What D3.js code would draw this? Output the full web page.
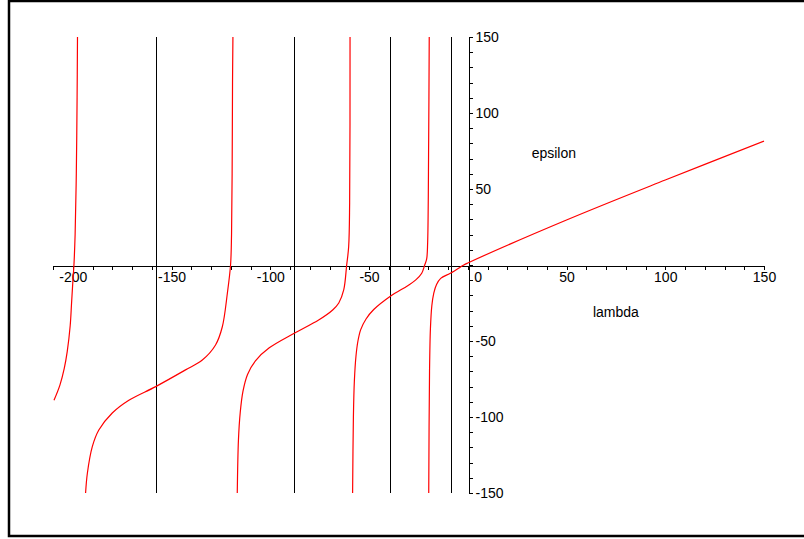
<!DOCTYPE html>
<html>
<head>
<meta charset="utf-8">
<script src="https://cdn.jsdelivr.net/npm/d3@7"></script>
<style>
  body { margin: 0; background: #fff; }
  svg { display: block; }
</style>
</head>
<body>
<svg id="chart"></svg>
<script>
// red branches, [lambda, epsilon]
const branch1 = [[-209.5, -89], [-206.5, -79], [-204.3, -68], [-202.8, -57], [-201.3, -40], [-200.6, -25],
  [-200.0, -12], [-199.4, 0], [-198.8, 20], [-198.2, 60], [-197.8, 110], [-197.6, 150]];
const branch2 = [[-193.5, -150], [-192.6, -137], [-190.1, -119.5], [-186.8, -108.6], [-180, -97.4],
  [-171.6, -89], [-158, -80], [-142.9, -69], [-134.4, -62.5], [-127.7, -52.6], [-124.3, -40.8],
  [-121.7, -18.4], [-120.1, 0], [-119.6, 20], [-119.3, 60], [-119.1, 120], [-118.9, 150]];
const branch3 = [[-116.7, -150], [-116.1, -115], [-115.2, -97], [-113.8, -83], [-111.5, -72], [-107.5, -63],
  [-100.5, -54.5], [-87.6, -44.7], [-75.5, -36.2], [-68.4, -29.6], [-65.3, -25],
  [-62.8, -16.4], [-61.3, 0], [-60.3, 12], [-59.8, 41], [-59.6, 150]];
const branch4 = [[-58.3, -150], [-57.9, -100], [-57.4, -76], [-56.6, -60], [-55.6, -50], [-54.2, -42.5],
  [-51.5, -35.5], [-47.6, -29.3], [-39, -20.4], [-30.4, -13.6], [-26.3, -9.8], [-23.3, -5.4],
  [-21.8, 0], [-20.8, 4], [-20.3, 15], [-19.8, 80], [-19.5, 150]];
const branch5 = [[-19.75, -150], [-19.35, -70], [-18.9, -42], [-18.2, -27], [-17.2, -18.5], [-15.8, -12.8],
  [-13.7, -8.8], [-8.6, -5.3], [-2, 0], [0, 1.3], [50, 29.6], [100, 55.9], [150, 81.5]];
const branches = [branch1, branch2, branch3, branch4, branch5];

// black vertical lines
const asymptotes = [-158, -87.8, -39.3, -8.6];

const xTicks = d3.range(-210, 151, 10);
const yTicks = d3.range(-150, 151, 10);
const xLabels = [-200, -150, -100, -50, 0, 50, 100, 150];
const yLabels = [-150, -100, -50, 50, 100, 150];

const width = 804, height = 539;
const font = "'Liberation Sans', Arial, sans-serif";

const svg = d3.select("#chart")
    .attr("width", width)
    .attr("height", height);

// outer frame
svg.append("rect")
    .attr("x", 9)
    .attr("y", 1)
    .attr("width", 802)
    .attr("height", 535)
    .attr("fill", "#fff")
    .attr("stroke", "#000")
    .attr("stroke-width", 2.5);

let xScale = d3.scaleLinear([-210, 150], [53, 764]);
let yScale = d3.scaleLinear([-150, 150], [493, 37]);

// vertical black lines
svg.append("g")
    .selectAll("line")
    .data(asymptotes)
    .enter().append("line")
    .attr("x1", d => Math.round(xScale(d)) + 0.5)
    .attr("x2", d => Math.round(xScale(d)) + 0.5)
    .attr("y1", yScale(150))
    .attr("y2", yScale(-150))
    .attr("stroke", "#000")
    .attr("stroke-width", 1);

// axes
let xAxis = d3.axisBottom(xScale)
    .tickValues(xTicks)
    .tickSize(4)
    .tickSizeOuter(0)
    .tickPadding(3)
    .tickFormat(d => xLabels.includes(d) ? d : "");
let yAxis = d3.axisRight(yScale)
    .tickValues(yTicks)
    .tickSize(4)
    .tickSizeOuter(4)
    .tickPadding(3)
    .tickFormat(d => yLabels.includes(d) ? d : "");

const gx = svg.append("g")
    .attr("transform", `translate(0,${Math.round(yScale(0)) + 0.5})`)
    .call(xAxis);
const gy = svg.append("g")
    .attr("transform", `translate(${Math.round(xScale(0)) + 0.5},0)`)
    .call(yAxis);

[gx, gy].forEach(g => {
    g.attr("font-family", font).attr("font-size", 14);
    g.selectAll("path, line").attr("stroke", "#000").attr("shape-rendering", "crispEdges");
    g.selectAll("text").attr("fill", "#000");
});
// the 0 label sits right of the vertical axis
gx.selectAll(".tick text").filter(d => d === 0).attr("dx", 10);

// red curves
let line = d3.line()
    .x(d => xScale(d[0]))
    .y(d => yScale(d[1]))
    .curve(d3.curveCatmullRom.alpha(0.5));
svg.append("g")
    .selectAll("path")
    .data(branches)
    .enter().append("path")
    .attr("fill", "none")
    .attr("stroke", "#ff0000")
    .attr("stroke-width", 1.2)
    .attr("d", line);

// axis titles
svg.append("text")
    .attr("x", xScale(43.6))
    .attr("y", yScale(73.7))
    .attr("dy", "0.35em")
    .attr("text-anchor", "middle")
    .attr("font-family", font)
    .attr("font-size", 14)
    .text("epsilon");
svg.append("text")
    .attr("x", xScale(75))
    .attr("y", yScale(-31))
    .attr("dy", "0.35em")
    .attr("text-anchor", "middle")
    .attr("font-family", font)
    .attr("font-size", 14)
    .text("lambda");
</script>
</body>
</html>
